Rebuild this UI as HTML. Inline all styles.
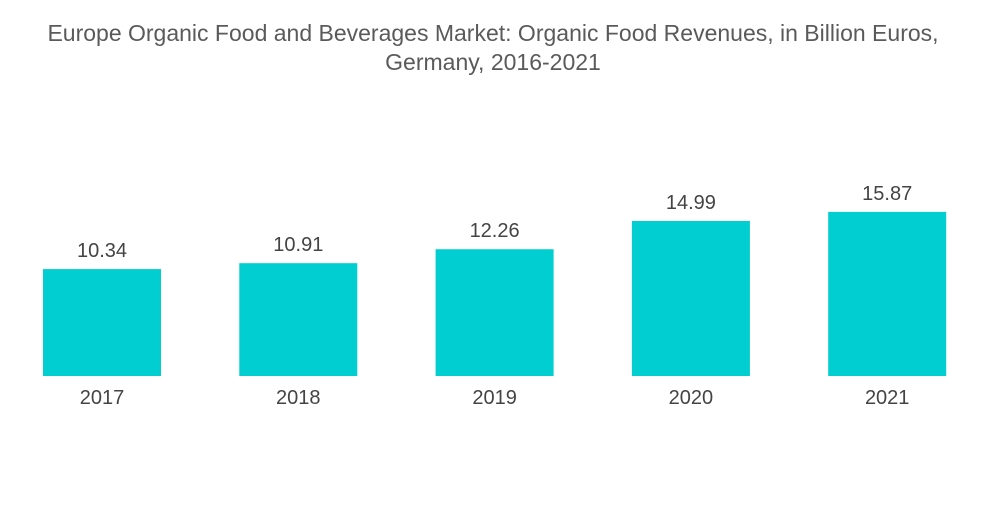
<!DOCTYPE html>
<html><head><meta charset="utf-8"><style>
body{margin:0;background:#fff;width:1000px;height:504px;overflow:hidden;font-family:"Liberation Sans",sans-serif}
</style></head><body>
<svg width="1000" height="504">
<text x="493" y="41" text-anchor="middle" font-size="23" fill="#5a5a5a">Europe Organic Food and Beverages Market: Organic Food Revenues, in Billion Euros,</text>
<text x="493" y="70" text-anchor="middle" font-size="23" fill="#5a5a5a">Germany, 2016-2021</text>
<g id="bars"></g>
</svg>
<script>
const categories=["2017","2018","2019","2020","2021"];
const values=[10.34,10.91,12.26,14.99,15.87];
const labels=["10.34","10.91","12.26","14.99","15.87"];
const g=document.getElementById('bars');
const ns="http://www.w3.org/2000/svg";
const base=376, scale=10.34, x0=43, step=196.3, bw=118;
function xs(i){return x0+i*step;}
function ys(v){return base-v*scale;}
categories.forEach((c,i)=>{
 const r=document.createElementNS(ns,'rect');
 r.setAttribute('x',xs(i));r.setAttribute('y',ys(values[i]));
 r.setAttribute('width',bw);r.setAttribute('height',base-ys(values[i]));
 r.setAttribute('fill','#00ced1');
 
 
 g.appendChild(r);
 const t=document.createElementNS(ns,'text');
 t.setAttribute('x',xs(i)+bw/2);t.setAttribute('y',ys(values[i])-12);
 t.setAttribute('text-anchor','middle');t.setAttribute('font-size','20');t.setAttribute('fill','#444');
 t.textContent=labels[i];
 
 
 g.appendChild(t);
 const a=document.createElementNS(ns,'text');
 a.setAttribute('x',xs(i)+bw/2);a.setAttribute('y',404);
 a.setAttribute('text-anchor','middle');a.setAttribute('font-size','20');a.setAttribute('fill','#444');
 a.textContent=c;
 
 
 g.appendChild(a);
});
</script>
</body></html>
